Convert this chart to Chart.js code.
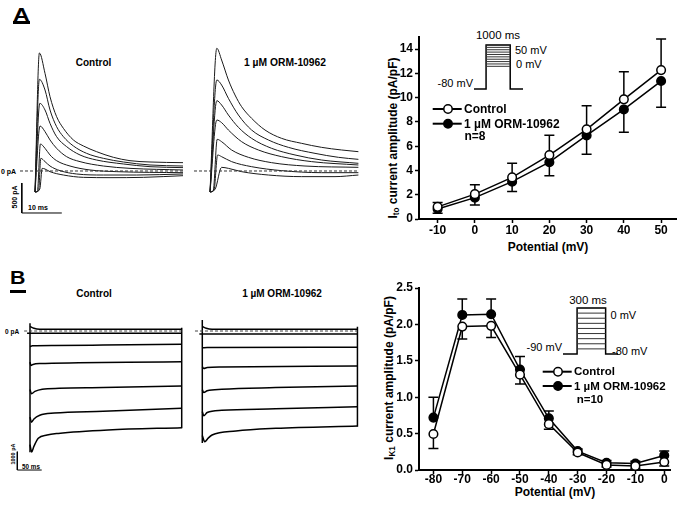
<!DOCTYPE html>
<html><head><meta charset="utf-8">
<script src="https://cdn.jsdelivr.net/npm/chart.js@4/dist/chart.umd.min.js"></script>
<style>
html,body{margin:0;padding:0;background:#fff;}
#fig{position:relative;width:682px;height:506px;overflow:hidden;font-family:"Liberation Sans",Arial,sans-serif;color:#000;}
canvas{position:absolute;}
.t{position:absolute;white-space:nowrap;line-height:1;transform:translate(-50%,-50%);}
.b{font-weight:bold;}
.l{transform:translate(0,-50%);}
.r{transform:translate(-100%,-50%);}
.v{transform:translate(-50%,-50%) rotate(-90deg);}
.w{transform-origin:0 50%;transform:translate(0,-50%) scaleX(1.22);}
sub{font-size:0.68em;line-height:0;vertical-align:-0.25em;}
</style></head><body><div id="fig">
<div class="t b w" style="left:12.5px;top:13.5px;font-size:19px;">A</div>
<div style="position:absolute;left:13px;top:21px;width:17px;height:2.5px;background:#000;"></div>
<div class="t b w" style="left:10px;top:279px;font-size:17.5px;">B</div>
<div style="position:absolute;left:10px;top:290px;width:16px;height:2.5px;background:#000;"></div>

<div class="t b" style="left:93.5px;top:63px;font-size:10px;">Control</div>
<div class="t b" style="left:285px;top:63px;font-size:10.3px;">1 µM ORM-10962</div>
<div class="t b" style="left:94px;top:294px;font-size:10px;">Control</div>
<div class="t b" style="left:282px;top:294px;font-size:10px;">1 µM ORM-10962</div>

<div class="t b l" style="left:1px;top:171px;font-size:7px;">0 pA</div>
<div class="t b v" style="left:14px;top:197px;font-size:7px;">500 pA</div>
<div class="t b" style="left:38px;top:207px;font-size:7px;">10 ms</div>
<div class="t b l" style="left:5px;top:331.5px;font-size:6.5px;">0 pA</div>
<div class="t b v" style="left:13.5px;top:454px;font-size:5.5px;">1000 pA</div>
<div class="t b" style="left:31px;top:466.5px;font-size:6.3px;">50 ms</div>

<div class="t" style="left:498px;top:36px;font-size:11.5px;">1000 ms</div>
<div class="t l" style="left:515px;top:50px;font-size:11px;">50 mV</div>
<div class="t l" style="left:516px;top:63.5px;font-size:11px;">0 mV</div>
<div class="t r" style="left:473px;top:82.5px;font-size:11px;">-80 mV</div>

<div class="t" style="left:588px;top:300.5px;font-size:11.5px;">300 ms</div>
<div class="t l" style="left:610.5px;top:314.5px;font-size:11px;">0 mV</div>
<div class="t r" style="left:562px;top:346.5px;font-size:11px;">-90 mV</div>
<div class="t l" style="left:612px;top:350.5px;font-size:11px;">-80 mV</div>

<div class="t b v" style="left:393px;top:138px;font-size:12px;">I<sub>to</sub> current amplitude (pA/pF)</div>
<div class="t b" style="left:548px;top:247px;font-size:12px;">Potential (mV)</div>
<div class="t b v" style="left:388.5px;top:378px;font-size:12px;">I<sub>K1</sub> current amplitude (pA/pF)</div>
<div class="t b" style="left:555px;top:492px;font-size:12px;">Potential (mV)</div>
</div>
<script>
// ---------- I-V data (panel A: Ito) ----------
const potA = [-10, 0, 10, 20, 30, 40, 50];
const ctrlA = [1.0, 2.05, 3.43, 5.27, 7.39, 9.86, 12.27];
const ctrlAerr = [0.35, 0.78, 1.17, 1.64, 1.94, 2.27, 2.56];
const ormA = [0.83, 1.76, 3.08, 4.68, 6.89, 9.03, 11.37];
const ormAerr = [0.36, 0.6, 0.82, 1.12, 1.55, 1.88, 2.17];
const xTicksA = [-10, 0, 10, 20, 30, 40, 50];
const yTicksA = [0, 2, 4, 6, 8, 10, 12, 14];

// ---------- I-V data (panel B: IK1) ----------
const potB = [-80, -70, -60, -50, -40, -30, -20, -10, 0];
const ctrlB = [0.495, 1.97, 1.98, 1.31, 0.63, 0.24, 0.07, 0.055, 0.11];
const ctrlBerr = [0.2, 0.17, 0.16, 0.13, 0.07, 0.03, 0.03, 0.03, 0.055];
const ormB = [0.72, 2.13, 2.14, 1.38, 0.71, 0.26, 0.1, 0.09, 0.2];
const ormBerr = [0.28, 0.22, 0.21, 0.18, 0.1, 0.03, 0.03, 0.03, 0.06];
const xTicksB = [-80, -70, -60, -50, -40, -30, -20, -10, 0];
const yTicksB = [0, 0.5, 1.0, 1.5, 2.0, 2.5];

// ---------- voltage protocols (ms, mV) ----------
const protoA = [[-500, -80], [0, -80], [0, 50], [1000, 50], [1000, -80], [1530, -80]];
const stepsA = [50, 43, 36, 29, 22, 15, 8, 1, -6, -13];
const protoB = [[-148, -90], [0, -90], [0, 0], [300, 0], [300, -90], [430, -90]];
const stepsB = [0, -10, -20, -30, -40, -50, -60, -70, -80];

// ---------- Ito current traces (ms, pA) ----------
const aCtrl1 = [[0,-350],[1.1,1967],[2.5,1628],[3.75,1239],[5.4,906],[7.1,711],[9.6,517],[12.1,417],[15.4,322],[19.6,228],[23.75,172],[28.75,150],[37,139]];
const aCtrl2 = [[0,-350],[1.1,1528],[2.5,1350],[3.75,1017],[5.4,739],[7.1,572],[9.6,417],[12.9,294],[17.1,211],[22.1,150],[28.75,100],[37,83]];
const aCtrl3 = [[0,-350],[1.2,1128],[2.5,1017],[3.75,794],[5.4,572],[7.9,406],[11.25,267],[15.4,183],[22.1,117],[28.75,72],[37,56]];
const aCtrl4 = [[0,-350],[1.25,750],[2.5,656],[3.75,517],[5.4,378],[7.9,239],[11.25,156],[17.1,83],[23.75,44],[37,17]];
const aCtrl5 = [[0,-350],[0.6,-340],[1.35,450],[2.5,378],[3.75,267],[5.4,172],[8.75,83],[13.75,17],[20.4,-11],[37,-28]];
const aCtrl6 = [[0,-350],[0.9,-330],[1.45,211],[2.5,156],[3.75,83],[6.25,6],[10.4,-50],[17.1,-67],[25.4,-67],[37,-50]];
const aCtrl7 = [[0,-350],[1.2,-300],[1.8,44],[2.5,33],[3.75,-11],[7.1,-67],[12.1,-106],[18.75,-111],[27.1,-106],[37,-78]];

const aOrm1 = [[0,-350],[1.7,2045],[2.9,1850],[4.6,1517],[6.25,1267],[7.9,1072],[10.4,878],[13.75,683],[17.9,544],[22.9,461],[27.9,394],[32.9,350],[37.1,322]];
const aOrm2 = [[0,-350],[1.7,1517],[2.9,1433],[4.6,1211],[7.1,933],[10.4,683],[14.6,517],[19.6,394],[26.25,294],[32.1,228],[37.1,194]];
const aOrm3 = [[0,-350],[1.7,1172],[2.9,1100],[4.6,933],[7.1,728],[10.4,544],[15.4,378],[21.25,267],[27.9,183],[37.1,128]];
const aOrm4 = [[0,-350],[1.7,850],[2.9,806],[4.6,683],[7.9,489],[12.1,350],[17.9,239],[25.4,156],[37.1,100]];
const aOrm5 = [[0,-350],[0.8,-330],[1.8,528],[2.9,489],[5.4,350],[9.6,228],[15.4,139],[23.75,83],[37.1,61]];
const aOrm6 = [[0,-350],[1.0,-320],[1.9,267],[2.9,239],[5.4,156],[10.4,72],[17.9,6],[27.9,-28],[37.1,-28]];
const aOrm7 = [[0,-350],[1.3,-300],[2.9,61],[4.6,44],[7.9,-11],[14.6,-67],[22.9,-94],[31.25,-94],[37.1,-67]];

// ---------- IK1 current traces (ms, pA) ----------
const bCtrl1 = [[0,250],[8,150],[20,100],[311,100]];
const bCtrl2 = [[-6,-126],[311,-126]];
const bCtrl3 = [[0,-850],[5,-810],[50,-790],[150,-770],[311,-730]];
const bCtrl4 = [[0,-1700],[2,-1880],[6,-1830],[20,-1780],[100,-1740],[200,-1710],[311,-1680]];
const bCtrl5 = [[0,-3200],[3,-3420],[10,-3300],[25,-3180],[60,-3130],[150,-3090],[311,-3000]];
const bCtrl6 = [[0,-4700],[3,-4980],[8,-4800],[20,-4600],[50,-4480],[150,-4380],[311,-4220]];
const bCtrl7 = [[0,-6200],[3.5,-6600],[8,-6300],[17,-5860],[35,-5680],[58,-5590],[160,-5400],[311,-5280]];

const bOrm1 = [[0,250],[8,150],[20,100],[318,90]];
const bOrm2 = [[-6,-164],[318,-164]];
const bOrm3 = [[0,-920],[10,-900],[318,-890]];
const bOrm4 = [[0,-1950],[3,-2050],[10,-1990],[40,-1960],[318,-1910]];
const bOrm5 = [[0,-3200],[3,-3360],[10,-3260],[40,-3180],[150,-3090],[318,-3000]];
const bOrm6 = [[0,-4400],[3,-4630],[10,-4450],[40,-4330],[150,-4250],[318,-4130]];
const bOrm7 = [[0,-5700],[5,-6050],[12,-5850],[20,-5680],[69,-5460],[151,-5315],[318,-5190]];

// edges, zero lines and scale bars (ms, pA)
const bCtrlEdges = [[[0,419],[0,-6624]], [[311,180],[311,-5312]]];
const bOrmEdges = [[[0,600],[0,-6115]], [[318,235],[318,-5225]]];
const aCtrlZero = [[-3.75,0],[37,0]];
const aOrmZero = [[-4,0],[37.1,0]];
const bCtrlZero = [[-12,0],[311,0]];
const bOrmZero = [[-15,0],[318,0]];
const aScaleBar = [[-3.3,-200],[-3.3,-700],[6.7,-700]];   // 500 pA, 10 ms
const bScaleBar = [[-26,-6590],[-26,-7590],[24,-7590]];   // 1000 pA, 50 ms

// ================= rendering =================
const FONT = 'Liberation Sans';
Chart.defaults.font.family = FONT;
Chart.defaults.color = '#000';
const fig = document.getElementById('fig');
function mkCanvas(l, t, w, h) {
  const c = document.createElement('canvas');
  c.width = w; c.height = h;
  c.style.left = l + 'px'; c.style.top = t + 'px';
  c.style.width = w + 'px'; c.style.height = h + 'px';
  fig.appendChild(c);
  return c;
}
const toXY = arr => arr.map(p => ({x: p[0], y: p[1]}));
const base = {animation: false, responsive: false, devicePixelRatio: 1, events: [],
  plugins: {legend: {display: false}, tooltip: {enabled: false}}};

function lineDs(pts, color, w, smooth, dash) {
  return {data: toXY(pts), borderColor: color, borderWidth: w, pointRadius: 0, showLine: true,
    fill: false, tension: 0, cubicInterpolationMode: smooth ? 'monotone' : 'default',
    borderDash: dash || [], clip: false};
}

function plainChart(box, xr, yr, datasets, pad) {
  const c = mkCanvas(box[0], box[1], box[2], box[3]);
  new Chart(c, {type: 'scatter', data: {datasets},
    options: Object.assign({}, base, {layout: {padding: pad || 0},
      scales: {x: {type: 'linear', display: false, min: xr[0], max: xr[1]},
               y: {type: 'linear', display: false, min: yr[0], max: yr[1]}}})});
}

// ---- Panel A traces ----
const yrA = [-816.7, 2183.3];
plainChart([15, 40, 175, 180], [-5, 38.75], yrA, [
  lineDs(aCtrlZero, '#333', 1, false, [3, 2]),
  ...[aCtrl1, aCtrl2, aCtrl3, aCtrl4, aCtrl5, aCtrl6, aCtrl7].map(t => lineDs(t, '#1a1a1a', 1, true)),
  lineDs(aScaleBar, '#000', 1, false)
]);
plainChart([190, 40, 175, 180], [-5, 38.75], yrA, [
  lineDs(aOrmZero, '#333', 1, false, [3, 2]),
  ...[aOrm1, aOrm2, aOrm3, aOrm4, aOrm5, aOrm6, aOrm7].map(t => lineDs(t, '#1a1a1a', 1, true))
]);

// ---- Panel B traces ----
const yrB = [-8135, 873.6];
plainChart([10, 315, 180, 165], [-41, 328], yrB, [
  lineDs(bCtrlZero, '#444', 1, false, [3, 2]),
  ...bCtrlEdges.map(e => lineDs(e, '#000', 1.5, false)),
  ...[bCtrl1, bCtrl2, bCtrl3, bCtrl4, bCtrl5, bCtrl6, bCtrl7].map(t => lineDs(t, '#000', 1.5, true)),
  lineDs(bScaleBar, '#000', 1, false)
]);
plainChart([192, 315, 175, 165], [-21.1, 337.6], yrB, [
  lineDs(bOrmZero, '#444', 1, false, [3, 2]),
  ...bOrmEdges.map(e => lineDs(e, '#000', 1.5, false)),
  ...[bOrm1, bOrm2, bOrm3, bOrm4, bOrm5, bOrm6, bOrm7].map(t => lineDs(t, '#000', 1.5, true))
]);

// ---- protocol insets ----
plainChart([464, 40, 69, 54], [-500, 1530], [-80, 50], [
  ...stepsA.map(v => lineDs([[0, v], [1000, v]], '#333', 1, false)),
  lineDs(protoA, '#000', 1.5, false)
], {left: 10, right: 10, top: 5, bottom: 5});
plainChart([553, 302, 75, 58], [-148, 430], [-90, 0], [
  ...stepsB.map(v => lineDs([[0, v], [300, v]], '#333', 1, false)),
  lineDs(protoB, '#000', 1.5, false)
], {left: 10, right: 10, top: 6, bottom: 6});

// ---- I-V charts ----
const errPlugin = {
  id: 'errBars',
  beforeDatasetsDraw(chart, args, opts) {
    const {ctx, scales: {x, y}} = chart;
    ctx.save();
    ctx.strokeStyle = '#000'; ctx.lineWidth = 1.5;
    chart.data.datasets.forEach(ds => {
      if (!ds.err) return;
      ds.data.forEach((p, i) => {
        const px = x.getPixelForValue(p.x);
        const py = y.getPixelForValue(p.y);
        const pe = y.getPixelForValue(p.y + ds.errDir * ds.err[i]);
        ctx.beginPath();
        ctx.moveTo(px, py); ctx.lineTo(px, pe);
        ctx.moveTo(px - opts.cap, pe); ctx.lineTo(px + opts.cap, pe);
        ctx.stroke();
      });
    });
    ctx.restore();
  }
};
const legendPlugin = {
  id: 'ivLegend',
  afterDraw(chart, args, o) {
    const ctx = chart.ctx;
    ctx.save();
    chart.data.datasets.forEach((ds, i) => {
      const y = o.y + i * o.dy;
      ctx.strokeStyle = '#000'; ctx.lineWidth = 2;
      ctx.beginPath(); ctx.moveTo(o.x0, y); ctx.lineTo(o.x1, y); ctx.stroke();
      ctx.beginPath(); ctx.arc(o.xm, y, 4.2, 0, Math.PI * 2);
      ctx.fillStyle = ds.pointBackgroundColor; ctx.fill();
      ctx.lineWidth = 1.5; ctx.stroke();
      ctx.fillStyle = '#000'; ctx.font = o.font; ctx.textBaseline = 'middle'; ctx.textAlign = 'left';
      ctx.fillText(ds.label, o.tx, y + 0.5);
    });
    ctx.fillText(o.note, o.nx, o.ny);
    ctx.restore();
  }
};

function ivDs(label, xs, ys, err, dir, fillCol) {
  return {label, data: xs.map((x, i) => ({x, y: ys[i]})), err, errDir: dir,
    borderColor: '#000', borderWidth: 1.5, showLine: true, tension: 0,
    pointRadius: 4.3, pointBackgroundColor: fillCol, pointBorderColor: '#000', pointBorderWidth: 1.5};
}
function ivScale(min, max, ticks, fitProp, fitVal, pad, fmt) {
  return {type: 'linear', min, max,
    afterFit(s) { s[fitProp] = fitVal; },
    afterBuildTicks(s) { s.ticks = ticks.map(v => ({value: v})); },
    grid: {display: true, drawOnChartArea: false, drawTicks: true, tickLength: 4, tickWidth: 1.5, tickColor: '#000'},
    border: {display: true, color: '#000', width: 2},
    ticks: {color: '#000', font: {family: FONT, size: 12, weight: 'bold'}, padding: pad,
      maxRotation: 0, autoSkip: false, callback: fmt || (v => v)}};
}
function ivChart(box, datasets, xs, ys, pad, legend) {
  const c = mkCanvas(box[0], box[1], box[2], box[3]);
  new Chart(c, {type: 'scatter', data: {datasets}, plugins: [errPlugin, legendPlugin],
    options: Object.assign({}, base, {
      layout: {padding: pad},
      scales: {x: xs, y: ys},
      plugins: {legend: {display: false}, tooltip: {enabled: false}, errBars: {cap: 5}, ivLegend: legend}})});
}

ivChart([370, 20, 312, 240], [
  ivDs('Control', potA, ctrlA, ctrlAerr, 1, '#fff'),
  ivDs('1 µM ORM-10962', potA, ormA, ormAerr, -1, '#000')
], ivScale(-15, 54, xTicksA, 'height', 41, 0), ivScale(0, 15, yTicksA, 'width', 49, 2),
{top: 17, right: 6, left: 0, bottom: 0},
{x0: 62.7, x1: 91.7, xm: 78, tx: 94, y: 89, dy: 14.7, font: 'bold 12px ' + FONT, note: 'n=8', nx: 94.5, ny: 117});

ivChart([370, 270, 312, 236], [
  ivDs('Control', potB, ctrlB, ctrlBerr, -1, '#fff'),
  ivDs('1 µM ORM-10962', potB, ormB, ormBerr, 1, '#000')
], ivScale(-85, 2, xTicksB, 'height', 36, -2), ivScale(0, 2.5, yTicksB, 'width', 49, 2, v => v.toFixed(1)),
{top: 18, right: 12, left: 0, bottom: 0},
{x0: 172.7, x1: 201.7, xm: 188, tx: 204, y: 101.7, dy: 14.3, font: 'bold 11.5px ' + FONT, note: 'n=10', nx: 206.7, ny: 130});
</script>
</body></html>
